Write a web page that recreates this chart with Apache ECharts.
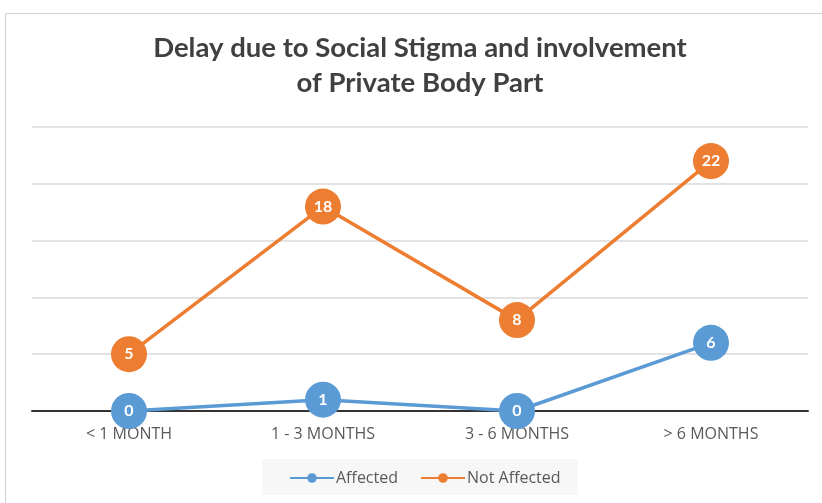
<!DOCTYPE html>
<html>
<head>
<meta charset="utf-8">
<script src="https://cdn.jsdelivr.net/npm/echarts@6/dist/echarts.min.js"></script>
<style>
  html, body { margin: 0; padding: 0; background: #fff; }
  #main { width: 822px; height: 503px; }
</style>
</head>
<body>
<div id="main"></div>
<script>
  // data
  var categories = ['< 1 MONTH', '1 - 3 MONTHS', '3 - 6 MONTHS', '> 6 MONTHS'];
  var affected = [0, 1, 0, 6];
  var notAffected = [5, 18, 8, 22];
  var seriesNames = ['Affected', 'Not Affected'];

  var myChart = echarts.init(document.getElementById('main'));

  function lineSeries(name, data, color) {
    return {
      name: name,
      type: 'line',
      data: data,
      symbol: 'circle',
      symbolSize: 36,
      lineStyle: { width: 3.5, color: color },
      itemStyle: { color: color },
      label: {
        show: true,
        position: 'inside',
        color: '#fff',
        fontSize: 16,
        fontWeight: 'bold',
        fontFamily: 'Lato'
      },
      z: name === 'Affected' ? 3 : 2
    };
  }

  myChart.setOption({
    animation: false,
    title: {
      text: 'Delay due to Social Stigma and involvement\nof Private Body Part',
      left: 415,
      textAlign: 'center',
      top: 26,
      textStyle: {
        color: '#404040',
        fontSize: 27.5,
        fontWeight: 'bold',
        fontFamily: 'Lato',
        lineHeight: 35
      }
    },
    graphic: [{
      type: 'rect',
      shape: { x: 5.5, y: 13.5, width: 840, height: 520 },
      style: { fill: 'none', stroke: '#d0d0d0', lineWidth: 1 },
      silent: true
    }, {
      type: 'rect',
      shape: { x: 262, y: 459, width: 316, height: 36 },
      style: { fill: '#f7f7f7' },
      z: -1,
      silent: true
    }],
    legend: {
      data: seriesNames,
      bottom: 12,
      left: 284,
      itemWidth: 44,
      itemHeight: 12,
      itemGap: 22,
      textStyle: { color: '#595959', fontSize: 16, fontFamily: 'Open Sans', padding: [0, 0, 0, -3] }
    },
    grid: {
      left: 32,
      right: 14,
      top: 127,
      bottom: 92,
      containLabel: false
    },
    xAxis: {
      type: 'category',
      data: categories,
      boundaryGap: true,
      axisLine: { lineStyle: { color: '#333', width: 2 } },
      axisTick: { show: false },
      axisLabel: {
        color: '#595959',
        fontSize: 16,
        fontFamily: 'Open Sans',
        margin: 15
      }
    },
    yAxis: {
      type: 'value',
      min: 0,
      max: 25,
      interval: 5,
      axisLabel: { show: false },
      axisLine: { show: false },
      axisTick: { show: false },
      splitLine: { lineStyle: { color: '#d9d9d9', width: 1.5 } }
    },
    series: [
      lineSeries(seriesNames[0], affected, '#5b9bd5'),
      lineSeries(seriesNames[1], notAffected, '#ed7d31')
    ]
  });
</script>
</body>
</html>
